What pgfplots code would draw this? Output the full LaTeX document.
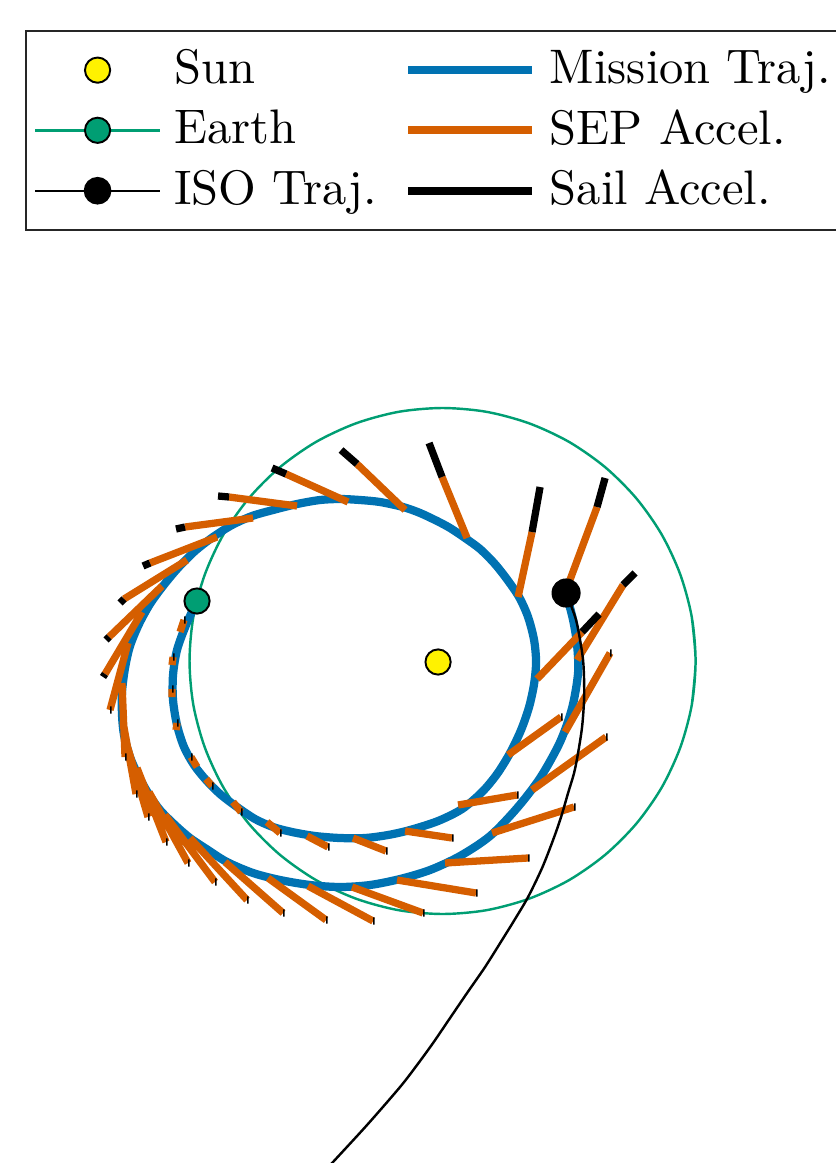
\documentclass[border=0pt]{standalone}
\usepackage{pgfplots}
\pgfplotsset{compat=1.18}
\definecolor{trajblue}{RGB}{0,114,178}
\definecolor{sepor}{RGB}{213,94,0}
\definecolor{earthg}{RGB}{0,158,115}
\begin{document}
\begin{tikzpicture}
\begin{axis}[
  scale only axis, width=172.2pt, height=239.8pt,
  xmin=-438, xmax=397, ymin=-501, ymax=662,
  hide axis, clip=true,
  unbounded coords=jump,
  legend image code/.code={\draw[mark repeat=2,mark phase=2,#1] plot coordinates {(0cm,0cm) (0.45cm,0cm) (0.9cm,0cm)};},
  legend columns=2,
  legend cell align=left,
  legend style={at={(axis description cs:0.030,0.974)}, anchor=north west,
    draw=black!85, fill=white, inner xsep=1.7pt, inner ysep=1.85pt,
    nodes={inner xsep=2.8pt, inner ysep=1.9pt, text depth=0.15em},
    /tikz/every even column/.append style={column sep=2.9pt}},
]
% legend entries
\addlegendimage{only marks, mark=*, mark size=2.6pt, mark options={fill=yellow, draw=black, line width=0.4pt}}
\addlegendentry{Sun}
\addlegendimage{trajblue, line width=1.6pt}
\addlegendentry{Mission Traj.}
\addlegendimage{earthg, line width=0.5pt, mark=*, mark size=2.6pt, mark options={fill=earthg, draw=black, line width=0.4pt}}
\addlegendentry{Earth}
\addlegendimage{sepor, line width=1.6pt}
\addlegendentry{SEP Accel.}
\addlegendimage{black, line width=0.5pt, mark=*, mark size=2.6pt, mark options={fill=black, draw=black}}
\addlegendentry{ISO Traj.}
\addlegendimage{black, line width=1.6pt}
\addlegendentry{Sail Accel.}

% Earth orbit
\addplot[earthg, line width=0.5pt, smooth, forget plot] coordinates {
(253.7,-42.9) (257.5,1) (253.7,44.9) (242.2,87.5) (223.6,127.5) (198.3,163.6) (167.1,194.8)
(131.0,220.1) (91.0,238.7) (48.4,250.2) (4.5,254) (-39.4,250.2) (-82.0,238.7)
(-122.0,220.1) (-158.1,194.8) (-189.3,163.6) (-214.6,127.5) (-233.2,87.5) (-244.7,44.9)
(-248.5,1) (-244.7,-42.9) (-233.2,-85.5) (-214.6,-125.5) (-189.3,-161.6) (-158.1,-192.8)
(-122.0,-218.1) (-82.0,-236.7) (-39.4,-248.2) (4.5,-252) (48.4,-248.2) (91.0,-236.7)
(131.0,-218.1) (167.1,-192.8) (198.3,-161.6) (223.6,-125.5) (242.2,-85.5) (253.7,-42.9)
(257.5,1) (253.7,44.9)};

% Earth marker
\addplot[only marks, mark=*, mark size=2.6pt, mark options={fill=earthg, draw=black, line width=0.4pt}, forget plot] coordinates {(-241,61)};
% Sun marker
\addplot[only marks, mark=*, mark size=2.6pt, mark options={fill=yellow, draw=black, line width=0.4pt}, forget plot] coordinates {(0,0)};

% Mission trajectory
\addplot[trajblue, line width=1.7pt, smooth, forget plot] coordinates {
(-241,61) (-252,37) (-261,12) (-265,-13) (-265,-38) (-261,-63) (-254,-85) (-244,-103)
(-232,-118) (-218,-132) (-201,-145) (-183,-157) (-165,-165) (-146,-170) (-123,-174)
(-98,-176) (-73,-176) (-50,-173) (-28,-168) (0,-159) (24,-147) (44,-130) (59,-112)
(72,-91) (83,-68) (91,-45) (96,-22) (98,0) (96,22) (90,45) (81,65) (68,84) (56,99)
(42,113) (27,124) (12,134) (-1,141) (-18,149) (-35,155) (-58,160) (-78,162) (-98,163)
(-118,162) (-141,158) (-165,152) (-186,146) (-206,137) (-225,125) (-243,111) (-260,94)
(-275,76) (-288,58) (-299,38) (-308,16) (-313,-6) (-316,-30) (-316,-53) (-314,-73)
(-308,-95) (-300,-113) (-290,-131) (-278,-148) (-263,-163) (-248,-176) (-230,-188)
(-211,-200) (-185,-211) (-158,-218) (-128,-223) (-98,-225) (-68,-223) (-38,-217)
(-8,-208) (22,-194) (52,-174) (79,-146) (102,-116) (122,-80) (134,-46) (140,-11)
(139,17) (135,42) (128,69)};

% SEP acceleration
\addplot[sepor, line width=1.5pt, forget plot] coordinates {
(-258,30) (-254,42) (nan,nan)
(-266,-3) (-265,5) (nan,nan)
(-266,-35) (-266,-27) (nan,nan)
(-262,-68) (-261,-61) (nan,nan)
(-241,-105) (-247,-95) (nan,nan)
(-232,-117) (-226,-124) (nan,nan)
(-205,-140) (-197,-150) (nan,nan)
(-171,-160) (-158,-171) (nan,nan)
(-131,-174) (-110,-185) (nan,nan)
(-85,-176) (-52,-189) (nan,nan)
(-33,-169) (14,-176) (nan,nan)
(20,-143) (79,-133) (nan,nan)
(70,-93) (123,-55) (nan,nan)
(99,-17) (144,30) (nan,nan)
(80,65) (94,130) (nan,nan)
(29,124) (4,185) (nan,nan)
(-33,152) (-81,198) (nan,nan)
(-90,160) (-152,188) (nan,nan)
(-141,156) (-209,165) (nan,nan)
(-185,144) (-253,135) (nan,nan)
(-221,125) (-288,99) (nan,nan)
(-251,102) (-314,63) (nan,nan)
(-276,76) (-329,25) (nan,nan)
(-296,50) (-333,-12) (nan,nan)
(-310,19) (-328,-48) (nan,nan)
(-316,-21) (-313,-95) (nan,nan)
(-315,-60) (-302,-132) (nan,nan)
(-311,-83) (-290,-155) (nan,nan)
(-301,-106) (-272,-180) (nan,nan)
(-289,-130) (-250,-201) (nan,nan)
(-273,-153) (-223,-220) (nan,nan)
(-248,-176) (-191,-238) (nan,nan)
(-213,-200) (-155,-251) (nan,nan)
(-170,-216) (-112,-258) (nan,nan)
(-130,-224) (-65,-259) (nan,nan)
(-86,-225) (-15,-251) (nan,nan)
(-41,-218) (38,-231) (nan,nan)
(7,-201) (90,-196) (nan,nan)
(54,-171) (136,-145) (nan,nan)
(94,-128) (168,-75) (nan,nan)
(127,-70) (172,9) (nan,nan)
(139,2) (185,77) (nan,nan)
(130,77) (159,155)};

% Sail acceleration
\addplot[black, line width=1.5pt, forget plot] coordinates {
(-240,62) (-238.5,62) (nan,nan)
(-254,42) (-252.5,42) (nan,nan)
(-265,5) (-263.5,5) (nan,nan)
(-266,-27) (-264.5,-27) (nan,nan)
(-261,-61) (-259.5,-61) (nan,nan)
(-247,-95) (-245.5,-95) (nan,nan)
(-226,-124) (-224.5,-124) (nan,nan)
(-197,-150) (-195.5,-150) (nan,nan)
(-158,-171) (-156.5,-171) (nan,nan)
(-110,-185) (-108.5,-185) (nan,nan)
(-52,-189) (-50.5,-189) (nan,nan)
(14,-176) (15.5,-176) (nan,nan)
(79,-133) (80.5,-133) (nan,nan)
(123,-55) (124.5,-55) (nan,nan)
(144,30) (161,48) (nan,nan)
(94,130) (102,175) (nan,nan)
(4,185) (-9,219) (nan,nan)
(-81,198) (-97,212) (nan,nan)
(-152,188) (-166,194) (nan,nan)
(-209,165) (-220,166) (nan,nan)
(-253,135) (-262,133) (nan,nan)
(-288,99) (-295,96) (nan,nan)
(-314,63) (-318,59) (nan,nan)
(-329,25) (-332,22) (nan,nan)
(-333,-12) (-335,-15) (nan,nan)
(-328,-48) (-326.5,-48) (nan,nan)
(-313,-95) (-311.5,-95) (nan,nan)
(-302,-132) (-300.5,-132) (nan,nan)
(-290,-155) (-288.5,-155) (nan,nan)
(-272,-180) (-270.5,-180) (nan,nan)
(-250,-201) (-248.5,-201) (nan,nan)
(-223,-220) (-221.5,-220) (nan,nan)
(-191,-238) (-189.5,-238) (nan,nan)
(-155,-251) (-153.5,-251) (nan,nan)
(-112,-258) (-110.5,-258) (nan,nan)
(-65,-259) (-63.5,-259) (nan,nan)
(-15,-251) (-13.5,-251) (nan,nan)
(38,-231) (39.5,-231) (nan,nan)
(90,-196) (91.5,-196) (nan,nan)
(136,-145) (137.5,-145) (nan,nan)
(168,-75) (169.5,-75) (nan,nan)
(172,9) (173.5,9) (nan,nan)
(185,77) (197,89) (nan,nan)
(159,155) (167,184)};

% ISO trajectory
\addplot[black, line width=0.5pt, smooth, forget plot] coordinates {
(128,69) (132,59) (138,42) (142,22) (145,2) (146,-18) (146,-38) (144,-65) (140,-91)
(136,-111) (130,-131) (123,-155) (115,-178) (104,-206) (90,-235) (77,-257) (64,-278)
(47,-305) (29,-331) (12,-356) (-5,-381) (-21,-403) (-38,-425) (-71,-463) (-105,-500)
(-128,-525)};
% ISO marker
\addplot[only marks, mark=*, mark size=2.8pt, mark options={fill=black, draw=black}, forget plot] coordinates {(128,69)};
\end{axis}
\pgfresetboundingbox
\path[use as bounding box] (current axis.south west) rectangle (current axis.north east);
\end{tikzpicture}
\end{document}
